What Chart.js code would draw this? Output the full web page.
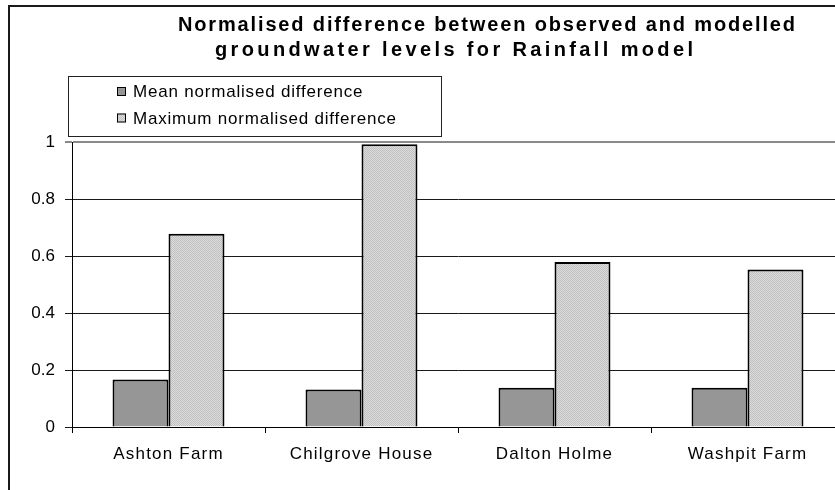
<!DOCTYPE html>
<html>
<head>
<meta charset="utf-8">
<script src="https://cdn.jsdelivr.net/npm/chart.js@4/dist/chart.umd.min.js"></script>
<style>
  html, body { margin: 0; padding: 0; background: #fff; overflow: hidden; }
  #wrap { width: 860px; height: 490px; }
</style>
</head>
<body>
<div id="wrap"><canvas id="c" width="860" height="490"></canvas></div>
<script>
// Sites and the two normalised-difference series
const sites = ['Ashton Farm', 'Chilgrove House', 'Dalton Holme', 'Washpit Farm'];
const meanDiff = [0.167, 0.132, 0.138, 0.138];
const maxDiff = [0.678, 0.992, 0.579, 0.553];
const seriesNames = ['Mean normalised difference', 'Maximum normalised difference'];
const yTickLabels = ['0', '0.2', '0.4', '0.6', '0.8', '1'];
const titleLines = ['Normalised difference between observed and modelled',
                    'groundwater levels for Rainfall model'];

const FONT = '"Liberation Sans", Arial, sans-serif';

// Fine dotted grey fill for the maximum series
function dotted() {
  const p = document.createElement('canvas');
  p.width = 2; p.height = 2;
  const g = p.getContext('2d');
  g.fillStyle = '#dcdcdc'; g.fillRect(0, 0, 2, 2);
  g.fillStyle = '#c0c0c0'; g.fillRect(0, 0, 1, 1); g.fillRect(1, 1, 1, 1);
  return g.createPattern(p, 'repeat');
}
const maxFill = dotted();

// Text with spacing stretched to span a given width
function spacedText(ctx, text, cx, y, width) {
  ctx.letterSpacing = '0px';
  const w = ctx.measureText(text).width;
  const n = text.length;
  const sp = n > 1 ? (width - w) / (n - 1) : 0;
  ctx.letterSpacing = sp + 'px';
  ctx.textAlign = 'left';
  ctx.fillText(text, cx - width / 2, y);
}

const decor = {
  id: 'decor',
  beforeDraw(chart) {
    const ctx = chart.ctx;
    ctx.save();
    ctx.fillStyle = '#fff';
    ctx.fillRect(0, 0, chart.width, chart.height);
    ctx.strokeStyle = '#1a1a1a';
    ctx.lineWidth = 2;
    ctx.strokeRect(9, 6, chart.width + 20, chart.height + 20);
    ctx.restore();
    ctx.letterSpacing = '0px';
  },
  afterDatasetsDraw(chart) {
    chart.ctx.letterSpacing = '1.2px';
  },
  afterDraw(chart) {
    const ctx = chart.ctx;
    ctx.save();
    // title
    ctx.fillStyle = '#000';
    ctx.font = 'bold 20px ' + FONT;
    ctx.textBaseline = 'alphabetic';
    spacedText(ctx, titleLines[0], 486.5, 31, 617);
    spacedText(ctx, titleLines[1], 454, 56, 478);
    // legend box
    ctx.letterSpacing = '0px';
    ctx.fillStyle = '#fff';
    ctx.fillRect(68, 76, 374, 61);
    ctx.strokeStyle = '#222';
    ctx.lineWidth = 1;
    ctx.strokeRect(68.5, 76.5, 373, 60);
    const ds = chart.data.datasets;
    const rows = [91.5, 118];
    ctx.font = '17px ' + FONT;
    ctx.textBaseline = 'middle';
    ds.forEach((d, i) => {
      const cy = rows[i];
      ctx.fillStyle = d.backgroundColor;
      ctx.fillRect(117, cy - 4.5, 9, 9);
      ctx.strokeStyle = '#000';
      ctx.lineWidth = 1;
      ctx.strokeRect(117.5, cy - 4, 8, 8);
      ctx.fillStyle = '#000';
      ctx.letterSpacing = '0.8px';
      ctx.textAlign = 'left';
      ctx.fillText(d.label, 133, cy + 1);
    });
    ctx.restore();
    ctx.letterSpacing = '0px';
  }
};

new Chart(document.getElementById('c'), {
  type: 'bar',
  data: {
    labels: sites,
    datasets: [
      { label: seriesNames[0], data: meanDiff, backgroundColor: '#969696',
        borderColor: '#000', borderWidth: 2 },
      { label: seriesNames[1], data: maxDiff, backgroundColor: maxFill,
        borderColor: '#000', borderWidth: 2 }
    ]
  },
  options: {
    responsive: false,
    animation: false,
    events: [],
    layout: { padding: { top: 142, left: 0, right: 16, bottom: 0 } },
    datasets: { bar: { categoryPercentage: 0.58, barPercentage: 1 } },
    plugins: { legend: { display: false }, title: { display: false }, tooltip: { enabled: false } },
    scales: {
      x: {
        grid: { offset: true, drawOnChartArea: false, tickLength: 6, color: '#000', lineWidth: 1 },
        border: { color: '#000', width: 1 },
        ticks: { font: { family: FONT, size: 17 }, color: '#000', padding: 11, z: 1,
                 maxRotation: 0, autoSkip: false },
        afterFit(s) { s.height = 63; }
      },
      y: {
        min: 0, max: 1,
        ticks: { stepSize: 0.2, padding: 10, font: { family: FONT, size: 17 }, color: '#000',
                 callback: (v, i) => yTickLabels[i] },
        grid: {
          tickLength: 7,
          color: c => (c.tick && c.tick.value === 1) ? '#8a8a8a' : '#1a1a1a',
          lineWidth: c => (c.tick && c.tick.value === 1) ? 2 : 1
        },
        border: { color: '#000', width: 1 },
        afterFit(s) { s.width = 72; }
      }
    }
  },
  plugins: [decor]
});
</script>
</body>
</html>
